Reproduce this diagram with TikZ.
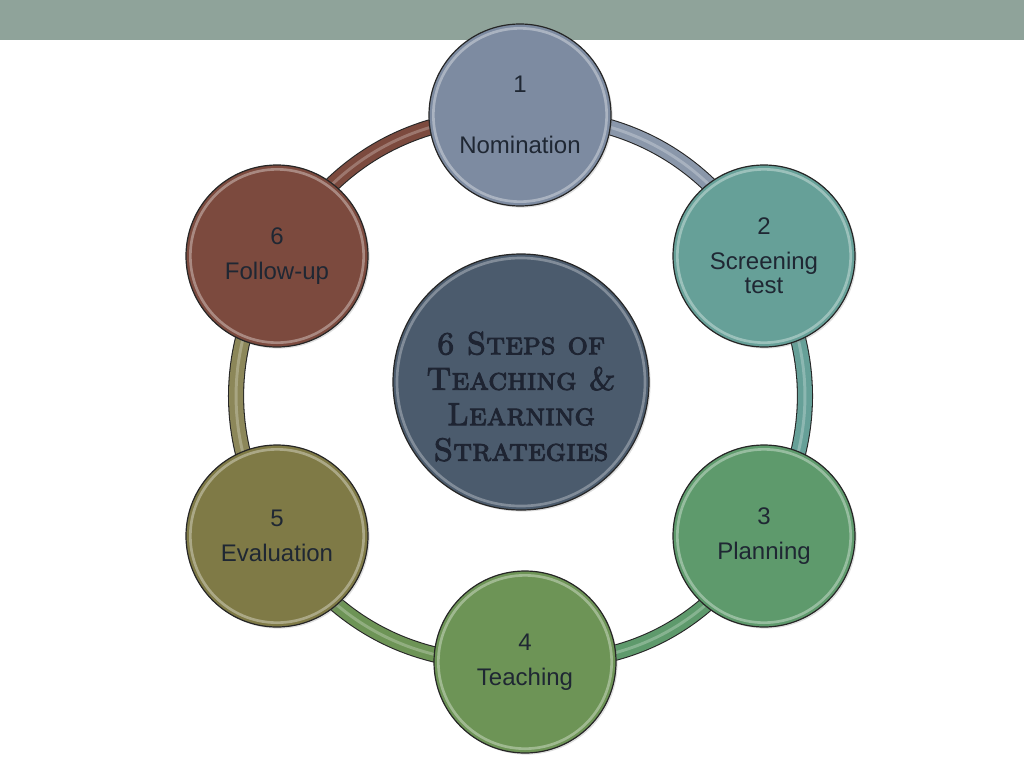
\documentclass[tikz,border=0pt]{standalone}
\usepackage{fontspec}
\setmainfont{Liberation Sans}
\newfontfamily\decofont{lmromancaps10-regular.otf}[FakeBold=3]
\usetikzlibrary{shadows}
\definecolor{barc}{HTML}{8FA39A}
\definecolor{cA}{HTML}{7D8BA1}
\definecolor{cB}{HTML}{66A098}
\definecolor{cC}{HTML}{5E9A6C}
\definecolor{cD}{HTML}{6D9456}
\definecolor{cE}{HTML}{7F7A46}
\definecolor{cF}{HTML}{7C4A3E}
\definecolor{cCtr}{HTML}{4B5B6D}
\definecolor{txt}{HTML}{1F2733}
\definecolor{ctrtxt}{HTML}{1E2432}
\pgfdeclarelayer{bg}
\pgfsetlayers{bg,main}
\tikzset{
  stepnode/.style={circle, draw=black!85, line width=0.9pt, minimum size=136.5pt,
    inner sep=0pt, align=center, font=\fontsize{18}{26}\selectfont, text=txt,
    drop shadow={shadow xshift=1.2pt, shadow yshift=-1.2pt, opacity=.25},
    path picture={\draw[white, opacity=.35, line width=2pt]
      (path picture bounding box.center) circle (65pt);}},
  centernode/.style={circle, draw=black!85, line width=0.9pt, minimum size=192pt,
    inner sep=0pt, align=center, fill=cCtr, text=ctrtxt,
    font=\decofont\fontsize{24}{26.6}\selectfont,
    drop shadow={shadow xshift=1.2pt, shadow yshift=-1.2pt, opacity=.25},
    path picture={\draw[white, opacity=.3, line width=2pt]
      (path picture bounding box.center) circle (93pt);}},
  ringband/.style={draw=black!85, line width=0.8pt, double=#1, double distance=10.5pt,
    postaction={draw=white, opacity=.25, line width=2.2pt}}
}
\begin{document}
\begin{tikzpicture}[x=0.75pt, y=-0.75pt]
\useasboundingbox (0,0) rectangle (1024,768);
\node[stepnode, fill=cA] (n1) at (520,115) {1\\[20pt]Nomination};
\node[stepnode, fill=cB] (n2) at (764,256) {2\\Screening\\[-8pt]test};
\node[stepnode, fill=cC] (n3) at (764,536) {3\\Planning};
\node[stepnode, fill=cD] (n4) at (525,662) {4\\Teaching};
\node[stepnode, fill=cE] (n5) at (277,536) {5\\Evaluation};
\node[stepnode, fill=cF] (n6) at (277,256) {6\\Follow-up};
\node[centernode] (ctr) at (521,382) {\raisebox{-20pt}[0pt][0pt]{\begin{tabular}{@{}c@{}}6 Steps of\\Teaching \&\\Learning\\Strategies\end{tabular}}};
\begin{pgfonlayer}{bg}
  \fill[barc] (0,0) rectangle (1024,40);
  \draw[ringband=cA!90!white] (n1.center) to[bend left=30] (n2.center);
  \draw[ringband=cB] (n2.center) to[bend left=30] (n3.center);
  \draw[ringband=cC] (n3.center) to[bend left=30] (n4.center);
  \draw[ringband=cD] (n4.center) to[bend left=30] (n5.center);
  \draw[ringband=cE!90!white] (n5.center) to[bend left=30] (n6.center);
  \draw[ringband=cF] (n6.center) to[bend left=30] (n1.center);
\end{pgfonlayer}
\end{tikzpicture}
\end{document}
